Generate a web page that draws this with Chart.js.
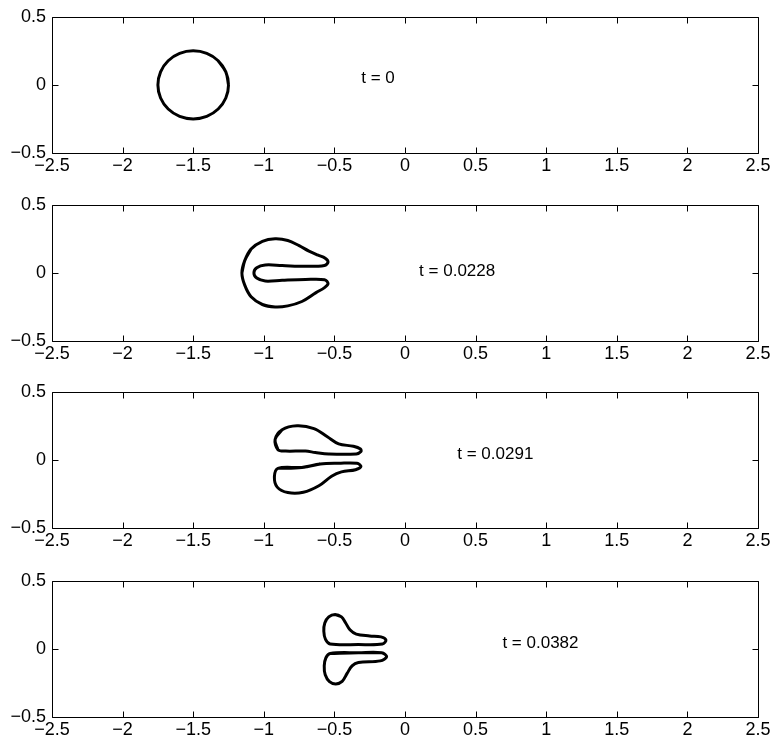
<!DOCTYPE html>
<html>
<head>
<meta charset="utf-8">
<script src="https://cdn.jsdelivr.net/npm/chart.js@4"></script>
<style>
  body { margin: 0; background: #fff; overflow: hidden; }
  .panel { position: absolute; left: 0; width: 777px; height: 188px; }
</style>
</head>
<body>
<div class="panel" style="top:0px"><canvas id="plot1" width="777" height="188"></canvas></div>
<div class="panel" style="top:188px"><canvas id="plot2" width="777" height="188"></canvas></div>
<div class="panel" style="top:375px"><canvas id="plot3" width="777" height="188"></canvas></div>
<div class="panel" style="top:564px"><canvas id="plot4" width="777" height="188"></canvas></div>
<script>
var times = ["0", "0.0228", "0.0291", "0.0382"];
var labelX = [-0.31, 0.10, 0.37, 0.69];
var labelY = [0.05, 0.014, 0.038, 0.043];

// drop outlines, [x, y] pairs in order round each closed curve
var drop1 = [[-1.25, 0], [-1.269, 0.096], [-1.323, 0.177], [-1.404, 0.231], [-1.5, 0.25],
  [-1.596, 0.231], [-1.677, 0.177], [-1.731, 0.096], [-1.75, 0], [-1.731, -0.096],
  [-1.677, -0.177], [-1.596, -0.231], [-1.5, -0.25], [-1.404, -0.231], [-1.323, -0.177],
  [-1.269, -0.096]];

var drop2 = [[-1.155, 0], [-1.135, 0.09], [-1.09, 0.175], [-1.01, 0.232], [-0.92, 0.25],
  [-0.83, 0.238], [-0.75, 0.2], [-0.68, 0.16], [-0.615, 0.13], [-0.565, 0.108],
  [-0.545, 0.08], [-0.57, 0.055], [-0.705, 0.048], [-0.87, 0.054], [-0.99, 0.058],
  [-1.05, 0.038], [-1.07, 0], [-1.05, -0.038], [-0.99, -0.06], [-0.87, -0.054],
  [-0.705, -0.048], [-0.57, -0.05], [-0.545, -0.078], [-0.57, -0.108], [-0.63, -0.145],
  [-0.73, -0.21], [-0.83, -0.242], [-0.92, -0.25], [-1.01, -0.232], [-1.09, -0.175],
  [-1.135, -0.09]];

var drop3Upper = [[-0.9, 0.075], [-0.92, 0.15], [-0.87, 0.222], [-0.765, 0.25], [-0.645, 0.23],
  [-0.55, 0.17], [-0.47, 0.118], [-0.365, 0.1], [-0.315, 0.08], [-0.312, 0.062],
  [-0.345, 0.044], [-0.54, 0.043], [-0.635, 0.054], [-0.705, 0.065], [-0.845, 0.065]];

var drop3Lower = [[-0.9, -0.062], [-0.73, -0.055], [-0.6, -0.03], [-0.47, -0.025], [-0.34, -0.025],
  [-0.312, -0.048], [-0.35, -0.072], [-0.45, -0.088], [-0.52, -0.12], [-0.61, -0.19],
  [-0.72, -0.238], [-0.83, -0.24], [-0.905, -0.2], [-0.925, -0.125]];

var drop4Upper = [[-0.495, 0.252], [-0.45, 0.235], [-0.42, 0.19], [-0.39, 0.14], [-0.345, 0.108],
  [-0.25, 0.095], [-0.17, 0.088], [-0.135, 0.065], [-0.16, 0.036], [-0.33, 0.032],
  [-0.53, 0.036], [-0.563, 0.07], [-0.575, 0.13], [-0.568, 0.19], [-0.54, 0.235]];

var drop4Lower = [[-0.53, -0.033], [-0.33, -0.028], [-0.165, -0.028], [-0.13, -0.057], [-0.175, -0.088],
  [-0.33, -0.1], [-0.375, -0.125], [-0.41, -0.18], [-0.445, -0.238], [-0.49, -0.257],
  [-0.535, -0.24], [-0.565, -0.19], [-0.572, -0.125], [-0.56, -0.065]];

var shapes = [[drop1], [drop2], [drop3Upper, drop3Lower], [drop4Upper, drop4Lower]];

var tickFont = { family: "'Liberation Sans', Arial, Helvetica, sans-serif", size: 18 };

function minus(v) {
  return String(v).replace("-", "\u2212");
}

// closed outline: wrap round past the start so the spline joins smoothly
function closed(pts) {
  var out = pts.map(function (p) { return { x: p[0], y: p[1] }; });
  out.push(out[0], out[1], out[2]);
  return out;
}

// frame round the plot area with inward ticks on all four sides
var framePlugin = {
  id: "frame",
  afterDraw: function (chart) {
    var ctx = chart.ctx, a = chart.chartArea;
    var xs = chart.scales.x, ys = chart.scales.y;
    var l = Math.round(a.left) + 0.5, r = Math.round(a.right) + 0.5;
    var t = Math.round(a.top) + 0.5, b = Math.round(a.bottom) + 0.5;
    ctx.save();
    ctx.strokeStyle = "#000";
    ctx.lineWidth = 1;
    ctx.beginPath();
    ctx.rect(l, t, r - l, b - t);
    xs.ticks.forEach(function (tk) {
      var px = Math.round(xs.getPixelForValue(tk.value)) + 0.5;
      ctx.moveTo(px, b); ctx.lineTo(px, b - 6);
      ctx.moveTo(px, t); ctx.lineTo(px, t + 6);
    });
    ys.ticks.forEach(function (tk) {
      var py = Math.round(ys.getPixelForValue(tk.value)) + 0.5;
      ctx.moveTo(l, py); ctx.lineTo(l + 6, py);
      ctx.moveTo(r, py); ctx.lineTo(r - 6, py);
    });
    ctx.stroke();
    ctx.restore();
  }
};

// time stamp written inside the axes at a data position
var stampPlugin = {
  id: "stamp",
  afterDatasetsDraw: function (chart, args, opts) {
    var ctx = chart.ctx;
    ctx.save();
    ctx.fillStyle = "#000";
    ctx.font = "17px 'Liberation Sans', Arial, Helvetica, sans-serif";
    ctx.textAlign = "left";
    ctx.textBaseline = "middle";
    ctx.fillText(opts.text, chart.scales.x.getPixelForValue(opts.x), chart.scales.y.getPixelForValue(opts.y));
    ctx.restore();
  }
};

function makePlot(id, i) {
  new Chart(id, {
    type: "scatter",
    data: {
      datasets: shapes[i].map(function (s) {
        return {
          data: closed(s),
          showLine: true,
          borderColor: "#000",
          borderWidth: 3,
          pointRadius: 0,
          tension: 0.35,
          fill: false
        };
      })
    },
    options: {
      responsive: false,
      animation: false,
      devicePixelRatio: 1,
      layout: { padding: { top: 12, right: 19, left: 0, bottom: 0 } },
      scales: {
        x: {
          type: "linear", min: -2.5, max: 2.5,
          grid: { display: false, drawTicks: false },
          border: { display: false },
          afterFit: function (s) { s.height = 35; },
          ticks: { stepSize: 0.5, autoSkip: false, maxRotation: 0, padding: 2,
                   color: "#000", font: tickFont, callback: minus }
        },
        y: {
          type: "linear", min: -0.5, max: 0.5,
          grid: { display: false, drawTicks: false },
          border: { display: false },
          afterFit: function (s) { s.width = 52; },
          ticks: { stepSize: 0.5, padding: 6, color: "#000", font: tickFont, callback: minus }
        }
      },
      plugins: {
        legend: { display: false },
        tooltip: { enabled: false },
        stamp: { text: "t = " + times[i], x: labelX[i], y: labelY[i] }
      }
    },
    plugins: [framePlugin, stampPlugin]
  });
}

makePlot("plot1", 0);
makePlot("plot2", 1);
makePlot("plot3", 2);
makePlot("plot4", 3);
</script>
</body>
</html>
